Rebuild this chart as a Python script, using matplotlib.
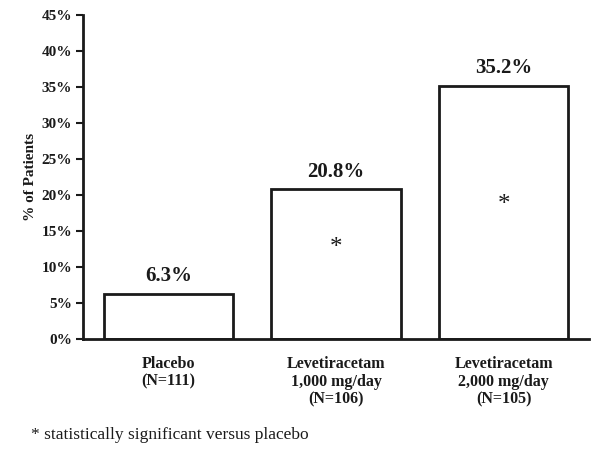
import matplotlib
matplotlib.use("Agg")
import matplotlib.pyplot as plt
from matplotlib.ticker import FuncFormatter

categories = ["Placebo\n(N=111)", "Levetiracetam\n1,000 mg/day\n(N=106)", "Levetiracetam\n2,000 mg/day\n(N=105)"]
values = [6.3, 20.8, 35.2]
value_labels = ["6.3%", "20.8%", "35.2%"]
significant = [False, True, True]
star_pos = [None, 12.6, 18.6]
yticks = [0, 5, 10, 15, 20, 25, 30, 35, 40, 45]
footnote = "* statistically significant versus placebo"

plt.rcParams['font.family'] = ['Liberation Serif', 'DejaVu Serif']

fig = plt.figure(figsize=(6.06, 4.57), dpi=100)
ax = fig.add_axes([83/606, 1-339/457, (589-83)/606, (339-15)/457])

x = list(range(len(values)))
ax.bar(x, values, width=0.77, color='white', edgecolor='#1a1a1a', linewidth=2)

for xi, v, lab in zip(x, values, value_labels):
    ax.text(xi, v + 1.0, lab, ha='center', va='bottom', fontsize=15, fontweight='bold', color='#1a1a1a')

for xi, sig, sp in zip(x, significant, star_pos):
    if sig:
        ax.text(xi, sp, "*", ha='center', va='center', fontsize=18, color='#1a1a1a')

ax.set_xlim(-0.51, 2.51)
ax.set_ylim(0, 45)
ax.set_yticks(yticks)
ax.yaxis.set_major_formatter(FuncFormatter(lambda v, p: f"{int(v)}%"))
ax.set_xticks([])
for lbl in ax.get_yticklabels():
    lbl.set_fontweight('bold')
ax.tick_params(axis='y', labelsize=11, length=5, width=1.5, colors='#1a1a1a', pad=3)

for s in ['top', 'right']:
    ax.spines[s].set_visible(False)
for s in ['left', 'bottom']:
    ax.spines[s].set_linewidth(2)
    ax.spines[s].set_color('#1a1a1a')

for xi, cat in zip(x, categories):
    xf = ax.transData.transform((xi, 0))[0] / fig.dpi / 6.06
    fig.text(xf, 1-356/457, cat, ha='center', va='top', fontsize=11.5, fontweight='bold',
             linespacing=1.15, color='#1a1a1a')

fig.text(30/606, 1-177/457, "% of Patients", rotation=90, ha='center', va='center',
         fontsize=11, fontweight='bold', color='#1a1a1a')
fig.text(31/606, 1-435/457, footnote, ha='left', va='center', fontsize=12.5, color='#1a1a1a')

fig.savefig("out.png", dpi=100)
